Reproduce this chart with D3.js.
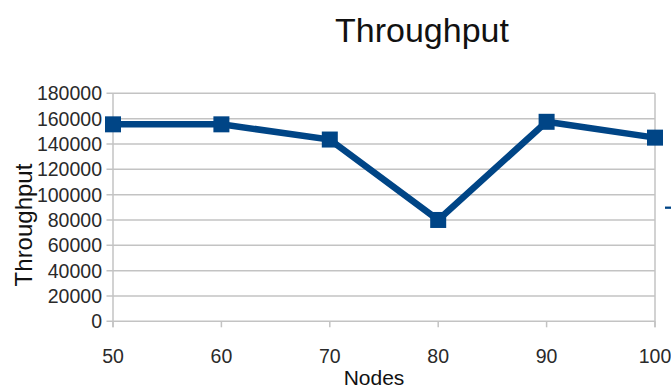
<!DOCTYPE html>
<html><head><meta charset="utf-8">
<script src="https://cdn.jsdelivr.net/npm/d3@7"></script>
<style>html,body{margin:0;padding:0;background:#fff;overflow:hidden}svg{display:block;font-family:"Liberation Sans",Arial,sans-serif}</style>
</head><body>
<svg id="c" width="671" height="390"></svg>
<script>
const nodes = [50, 60, 70, 80, 90, 100];
const throughput = [155500, 155500, 143500, 80000, 157500, 145000];
const yTicks = [0, 20000, 40000, 60000, 80000, 100000, 120000, 140000, 160000, 180000];
const title = "Throughput";
const xTitle = "Nodes";
const yTitle = "Throughput";

const svg = d3.select("#c");
const L = 113, R = 655, T = 93.3, B = 321.3;
const x = d3.scaleLinear().domain([50, 100]).range([L, R]);
const y = d3.scaleLinear().domain([0, 180000]).range([B, T]);
const gridC = "#c3c3c3";

// gridlines + y ticks
svg.append("g").selectAll("line").data(yTicks).join("line")
  .attr("x1", L - 6.5).attr("x2", R)
  .attr("y1", d => y(d)).attr("y2", d => y(d))
  .attr("stroke", gridC).attr("stroke-width", 1.5);
// left axis & right border
svg.append("line").attr("x1", L).attr("x2", L).attr("y1", T).attr("y2", B + 6)
  .attr("stroke", gridC).attr("stroke-width", 1.5);
svg.append("line").attr("x1", R).attr("x2", R).attr("y1", T).attr("y2", B + 6)
  .attr("stroke", gridC).attr("stroke-width", 1.5);
// x ticks
svg.append("g").selectAll("line").data(nodes).join("line")
  .attr("x1", d => x(d)).attr("x2", d => x(d))
  .attr("y1", B).attr("y2", B + 6)
  .attr("stroke", gridC).attr("stroke-width", 1.5);

// y labels
svg.append("g").selectAll("text").data(yTicks).join("text")
  .attr("x", 102).attr("y", d => y(d)).attr("dy", "0.36em")
  .attr("text-anchor", "end").attr("font-size", 19.5).attr("fill", "#2a2a2a")
  .text(d => d);
// x labels
svg.append("g").selectAll("text").data(nodes).join("text")
  .attr("x", d => x(d)).attr("y", 363)
  .attr("text-anchor", "middle").attr("font-size", 19.5).attr("fill", "#2a2a2a")
  .text(d => d);

// line
const data = nodes.map((n, i) => [n, throughput[i]]);
svg.append("path").datum(data)
  .attr("d", d3.line().x(d => x(d[0])).y(d => y(d[1])))
  .attr("fill", "none").attr("stroke", "#004586").attr("stroke-width", 6.5)
  .attr("stroke-linejoin", "miter");
svg.append("g").selectAll("rect").data(data).join("rect")
  .attr("x", d => x(d[0]) - 8).attr("y", d => y(d[1]) - 8)
  .attr("width", 16).attr("height", 16).attr("fill", "#004586");

// legend fragment
svg.append("line").attr("x1", 665).attr("x2", 675).attr("y1", 207.7).attr("y2", 207.7)
  .attr("stroke", "#004586").attr("stroke-width", 2.3);

// titles
svg.append("text").attr("x", 422).attr("y", 42).attr("text-anchor", "middle")
  .attr("font-size", 34).attr("fill", "#111").text(title);
svg.append("text").attr("x", 374).attr("y", 385).attr("text-anchor", "middle")
  .attr("font-size", 21).attr("fill", "#111").text(xTitle);
svg.append("text").attr("transform", "translate(32,225) rotate(-90)")
  .attr("text-anchor", "middle").attr("font-size", 24).attr("fill", "#111").text(yTitle);
</script>
</body></html>
